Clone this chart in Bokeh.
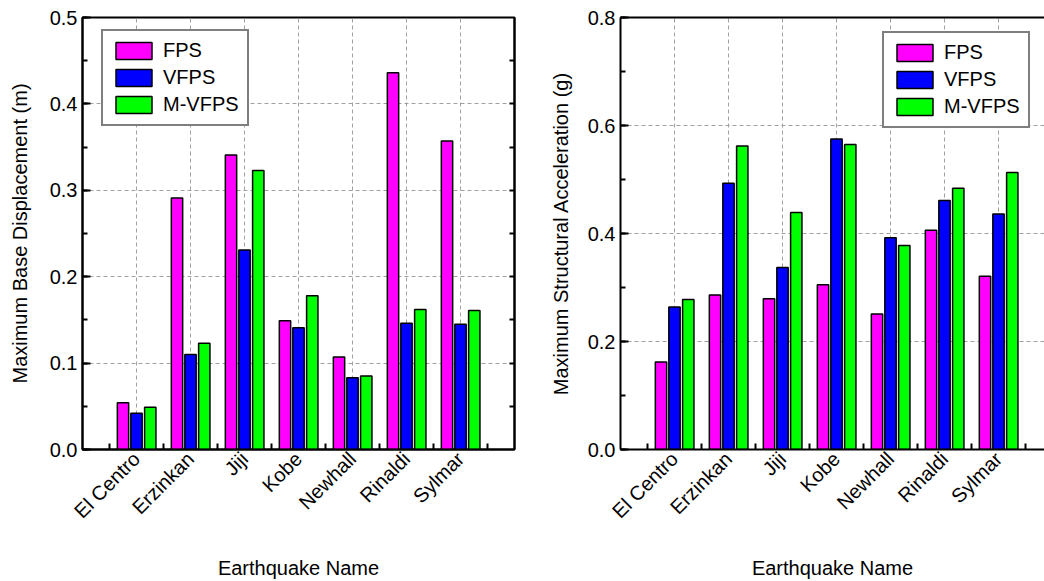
import math
from bokeh.plotting import figure
from bokeh.models import (ColumnDataSource, FixedTicker, SingleIntervalTicker, LinearAxis,
                          Legend, LegendItem, PrintfTickFormatter, Range1d)
from bokeh.layouts import row
from bokeh.transform import dodge
from bokeh.embed import file_html
from bokeh.resources import INLINE

earthquakes = ["El Centro", "Erzinkan", "Jiji", "Kobe", "Newhall", "Rinaldi", "Sylmar"]
series = ["FPS", "VFPS", "M-VFPS"]
colors = ["#FF00FF", "#0000FF", "#00FF00"]

disp_fps = [0.054, 0.291, 0.341, 0.149, 0.107, 0.436, 0.357]
disp_vfps = [0.042, 0.110, 0.231, 0.141, 0.083, 0.146, 0.145]
disp_mvfps = [0.049, 0.123, 0.323, 0.178, 0.085, 0.162, 0.161]

acc_fps = [0.162, 0.286, 0.279, 0.305, 0.251, 0.406, 0.321]
acc_vfps = [0.264, 0.493, 0.337, 0.575, 0.392, 0.461, 0.436]
acc_mvfps = [0.278, 0.562, 0.439, 0.565, 0.378, 0.484, 0.513]

FONT = "Liberation Sans"
FS = "20px"


def make_panel(vals, ylabel, ymax, yint, xend, fw, mbl, mbr, right_axis, outline, leg_xy, ylab_standoff):
    xs = list(range(1, len(earthquakes) + 1))
    src = ColumnDataSource(dict(x=xs, name=earthquakes, s0=vals[0], s1=vals[1], s2=vals[2]))
    p = figure(frame_width=fw, frame_height=432, x_range=Range1d(0, xend), y_range=Range1d(0, ymax),
               output_backend="svg", toolbar_location=None,
               min_border_left=mbl, min_border_right=mbr, min_border_top=17, min_border_bottom=130)
    p.background_fill_color = "white"
    p.border_fill_color = "white"
    if outline:
        p.outline_line_color = "black"
        p.outline_line_width = 2
    else:
        p.outline_line_color = None

    offs = [-0.25, 0.0, 0.255]
    rends = []
    for i, (off, c) in enumerate(zip(offs, colors)):
        r = p.vbar(x=dodge("x", off, range=p.x_range), top="s%d" % i, width=0.21, bottom=0,
                   source=src, fill_color=c, line_color="black", line_width=1.5)
        rends.append(r)

    # x axis: labels at category centres, tick marks between categories
    xt = FixedTicker(ticks=xs, minor_ticks=[x - 0.5 for x in xs] + [xs[-1] + 0.5])
    xa = p.xaxis[0]
    xa.ticker = xt
    xa.major_label_overrides = {x: n for x, n in zip(xs, earthquakes)}
    xa.major_label_orientation = math.pi / 4
    xa.major_tick_in = 0
    xa.major_tick_out = 0
    xa.minor_tick_in = 6
    xa.minor_tick_out = 0
    xa.minor_tick_line_width = 2
    xa.axis_line_width = 2
    xa.axis_label = "Earthquake Name"
    xa.major_label_standoff = 6
    xa.axis_label_standoff = 24

    # y axis
    yt = SingleIntervalTicker(interval=yint, num_minor_ticks=2)
    ya = p.yaxis[0]
    ya.ticker = yt
    ya.formatter = PrintfTickFormatter(format="%.1f")
    ya.major_tick_in = 8
    ya.major_tick_out = 0
    ya.minor_tick_in = 5
    ya.minor_tick_out = 0
    ya.major_tick_line_width = 2
    ya.minor_tick_line_width = 2
    ya.axis_line_width = 2
    ya.axis_label = ylabel
    ya.major_label_standoff = 5
    ya.axis_label_standoff = ylab_standoff

    for a in (xa, ya):
        a.major_label_text_font = FONT
        a.major_label_text_font_size = FS
        a.major_label_text_color = "black"
        a.axis_label_text_font = FONT
        a.axis_label_text_font_size = FS
        a.axis_label_text_font_style = "normal"
        a.axis_label_text_color = "black"
        a.axis_line_color = "black"

    if right_axis:
        nsteps = int(round(ymax / (yint / 2)))
        rticks = [k * yint / 2 for k in range(1, nsteps)]
        ra = LinearAxis(ticker=FixedTicker(ticks=[], minor_ticks=rticks),
                        major_tick_in=0, major_tick_out=0, minor_tick_in=5, minor_tick_out=0,
                        minor_tick_line_width=2, axis_line_width=2, major_label_standoff=0)
        p.add_layout(ra, "right")
    else:
        ta = LinearAxis(ticker=FixedTicker(ticks=[]), major_tick_in=0, major_tick_out=0,
                        minor_tick_in=0, minor_tick_out=0, axis_line_width=2, major_label_standoff=0)
        p.add_layout(ta, "above")

    p.xgrid.ticker = FixedTicker(ticks=xs)
    p.ygrid.ticker = SingleIntervalTicker(interval=yint)
    for g in (p.xgrid[0], p.ygrid[0]):
        g.grid_line_color = "#a0a0a0"
        g.grid_line_dash = "4 3"
        g.grid_line_width = 1

    leg = Legend(items=[LegendItem(label=s, renderers=[r]) for s, r in zip(series, rends)],
                 location=leg_xy)
    leg.label_text_font = FONT
    leg.label_text_font_size = FS
    leg.label_text_color = "black"
    leg.glyph_width = 45
    leg.glyph_height = 21
    leg.label_height = 21
    leg.label_standoff = 7
    leg.spacing = 4
    leg.padding = 8
    leg.margin = 0
    leg.border_line_color = "black"
    leg.border_line_width = 2
    leg.background_fill_color = "white"
    leg.background_fill_alpha = 1
    p.add_layout(leg)
    return p


p1 = make_panel([disp_fps, disp_vfps, disp_mvfps], "Maximum Base Displacement (m)", 0.5, 0.1,
                8.0, 432, 82, 10, True, True, (19, 323), 16)
p2 = make_panel([acc_fps, acc_vfps, acc_mvfps], "Maximum Structural Acceleration (g)", 0.8, 0.2,
                424 / 54, 424, 96, 0, False, False, (262, 321), 13)

layout = row(p1, p2)
open("out.html", "w").write(file_html(layout, INLINE))
